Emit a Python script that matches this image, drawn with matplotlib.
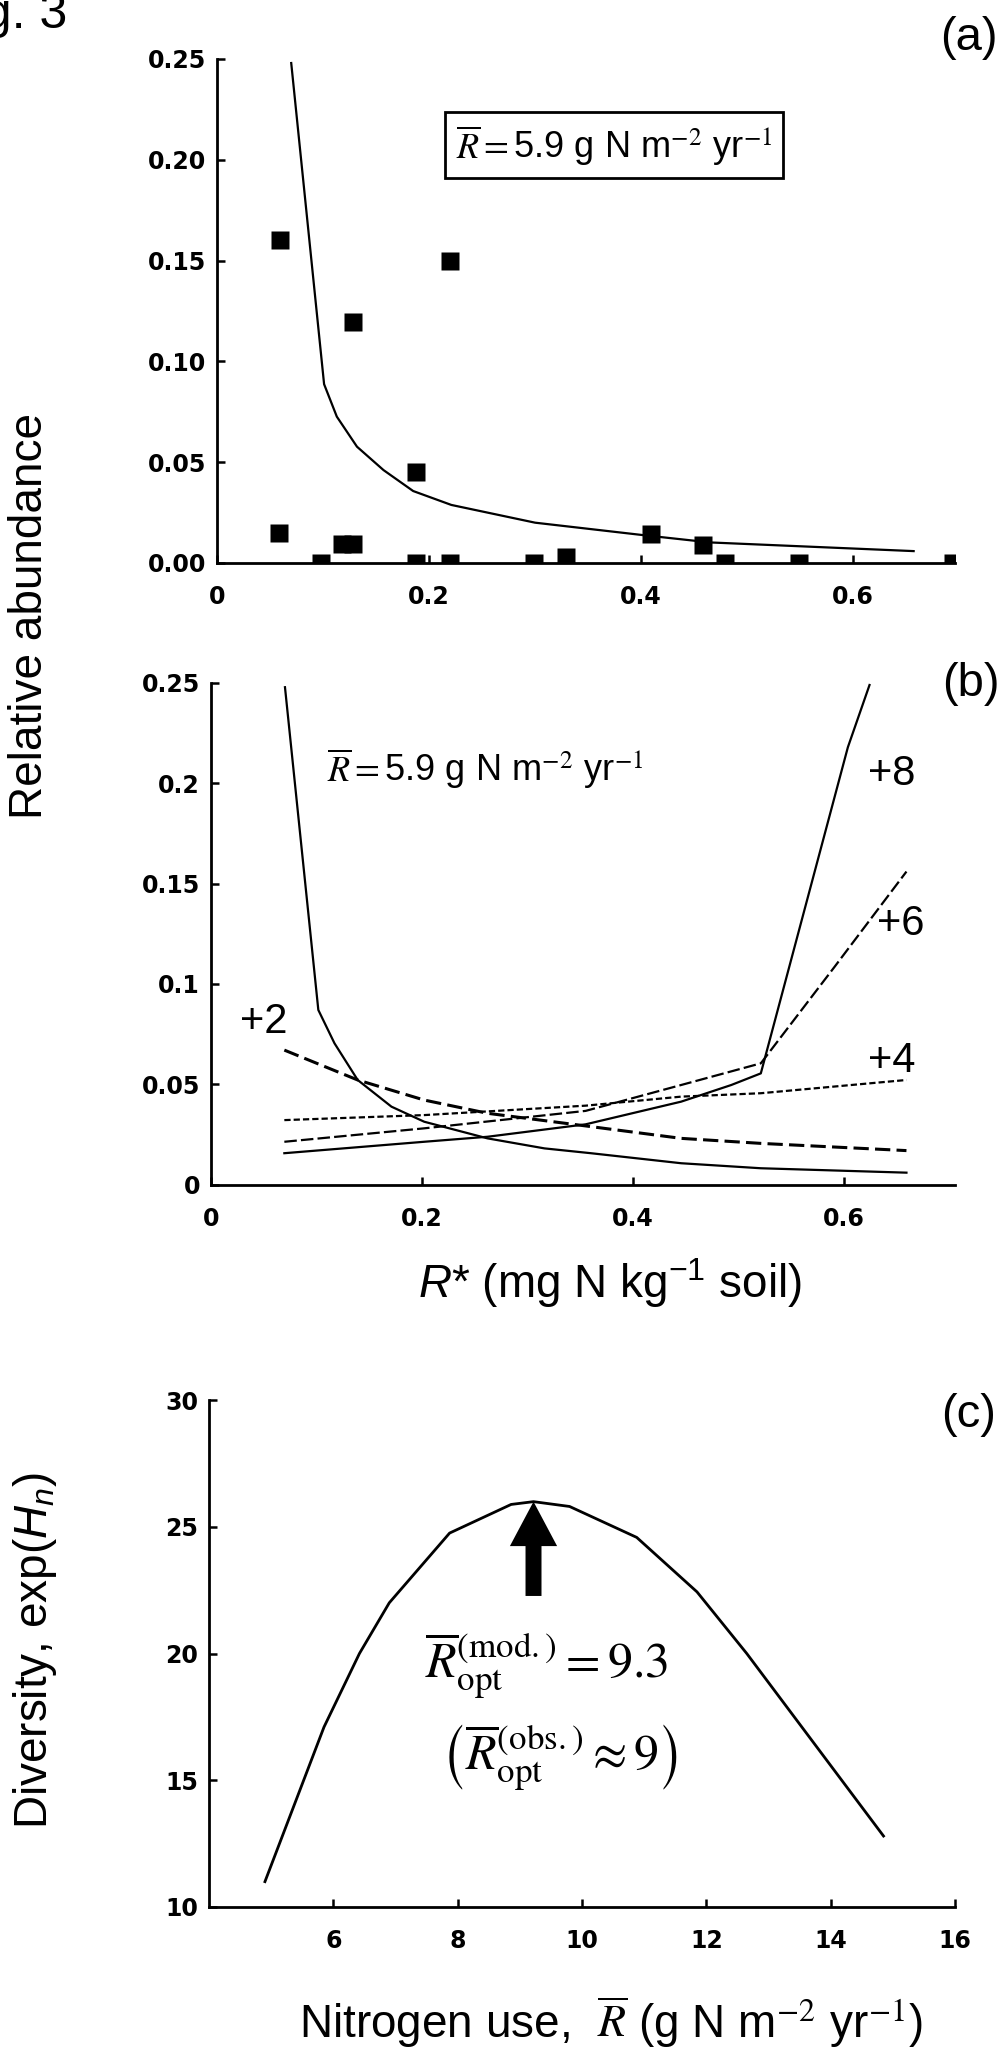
import matplotlib
matplotlib.use("Agg")
import matplotlib.pyplot as plt

# ---- data ----
# (a) observed relative abundance vs R*
obs_rstar = [0.059, 0.0585, 0.098, 0.118, 0.1285, 0.1286, 0.1874, 0.188, 0.2195,
             0.2195, 0.299, 0.329, 0.409, 0.4587, 0.479, 0.549, 0.694]
obs_abund = [0.160, 0.0147, 0.0, 0.0095, 0.0095, 0.1197, 0.0453, 0.0, 0.150,
             0.0, 0.0, 0.003, 0.0142, 0.0087, 0.0, 0.0, 0.0]

# (a) model curve, R-bar = 5.9
model_a_x = [0.070, 0.101, 0.113, 0.132, 0.157, 0.185, 0.221, 0.300, 0.404, 0.465, 0.657]
model_a_y = [0.248, 0.0887, 0.0726, 0.0577, 0.0461, 0.0357, 0.0288, 0.0200, 0.0137, 0.0102, 0.0059]

# (b) model curves for increasing N use
base_x = [0.0701, 0.1017, 0.117, 0.139, 0.171, 0.202, 0.262, 0.316, 0.360, 0.4455, 0.521, 0.659]
base_y = [0.2479, 0.087, 0.0704, 0.0521, 0.0388, 0.0313, 0.023, 0.018, 0.0156, 0.0106, 0.0081, 0.0059]
plus2_x = [0.0695, 0.139, 0.202, 0.262, 0.355, 0.4455, 0.521, 0.659]
plus2_y = [0.067, 0.0521, 0.0421, 0.0355, 0.0292, 0.023, 0.0205, 0.0169]
plus4_x = [0.0695, 0.202, 0.355, 0.4455, 0.521, 0.659]
plus4_y = [0.0321, 0.0346, 0.0393, 0.0438, 0.0455, 0.0521]
plus6_x = [0.0695, 0.202, 0.355, 0.4455, 0.521, 0.591, 0.659]
plus6_y = [0.0213, 0.028, 0.0367, 0.0496, 0.0604, 0.1086, 0.156]
plus8_x = [0.0695, 0.202, 0.262, 0.355, 0.4455, 0.493, 0.521, 0.6035, 0.624]
plus8_y = [0.0156, 0.0213, 0.0238, 0.030, 0.0413, 0.0496, 0.0554, 0.218, 0.249]

# (c) diversity vs nitrogen use
n_use = [4.9, 5.85, 6.42, 6.9, 7.87, 8.86, 9.22, 9.8, 10.88, 11.85, 12.65, 14.85]
diversity = [11.0, 17.1, 20.0, 22.0, 24.75, 25.88, 25.99, 25.8, 24.58, 22.43, 20.0, 12.8]
r_opt = 9.22

plt.rcParams['font.family'] = ['Liberation Sans', 'DejaVu Sans']
plt.rcParams['mathtext.fontset'] = 'custom'
plt.rcParams['mathtext.rm'] = 'Liberation Sans'
plt.rcParams['mathtext.it'] = 'Liberation Sans:italic'
plt.rcParams['mathtext.bf'] = 'Liberation Sans:bold'
plt.rcParams['lines.scale_dashes'] = False

W, H = 1006, 2051
fig = plt.figure(figsize=(W / 100, H / 100), dpi=100)
fig.patch.set_facecolor('white')


def px_axes(left, right, top, bottom):
    return fig.add_axes([left / W, 1 - bottom / H, (right - left) / W, (bottom - top) / H])


tick_font = dict(fontfamily='DejaVu Sans', fontweight='bold', fontsize=17)


def style(ax, xticks, xlabels, yticks, ylabels):
    for s in ['top', 'right']:
        ax.spines[s].set_visible(False)
    for s in ['left', 'bottom']:
        ax.spines[s].set_linewidth(2)
    ax.set_xticks(xticks, xlabels, **tick_font)
    ax.set_yticks(yticks, ylabels, **tick_font)
    ax.tick_params(direction='in', length=6, width=1.8)
    ax.tick_params(axis='y', pad=8)
    ax.tick_params(axis='x', pad=16)


# ---- (a) ----
ax1 = px_axes(217, 955, 59, 563)
ax1.plot(model_a_x, model_a_y, color='black', lw=1.6)
ax1.plot(obs_rstar, obs_abund, 's', color='black', ms=12.5, mec='none')
ax1.set_xlim(0, 0.696)
ax1.set_ylim(0, 0.25)
style(ax1, [0, 0.2, 0.4, 0.6], ['0', '0.2', '0.4', '0.6'],
      [0, 0.05, 0.10, 0.15, 0.20, 0.25], ['0.00', '0.05', '0.10', '0.15', '0.20', '0.25'])
ax1.text(0.3745, 0.2073, r'$\overline{R}=$5.9 g N m$^{-2}$ yr$^{-1}$', fontsize=26,
         ha='center', va='center', math_fontfamily='stix',
         bbox=dict(boxstyle='square,pad=0.3', fc='white', ec='black', lw=2))

# ---- (b) ----
ax2 = px_axes(211, 955, 683, 1184.5)
ax2.plot(base_x, base_y, color='black', lw=1.6)
ax2.plot(plus2_x, plus2_y, color='black', lw=2.2, dashes=(11, 4.5))
ax2.plot(plus4_x, plus4_y, color='black', lw=1.6, dashes=(4.5, 2.2))
ax2.plot(plus6_x, plus6_y, color='black', lw=1.6, dashes=(9, 3))
ax2.plot(plus8_x, plus8_y, color='black', lw=1.6)
ax2.set_xlim(0, 0.705)
ax2.set_ylim(0, 0.25)
style(ax2, [0, 0.2, 0.4, 0.6], ['0', '0.2', '0.4', '0.6'],
      [0, 0.05, 0.1, 0.15, 0.2, 0.25], ['0', '0.05', '0.1', '0.15', '0.2', '0.25'])
ax2.text(0.26, 0.2076, r'$\overline{R}=$5.9 g N m$^{-2}$ yr$^{-1}$', fontsize=26,
         ha='center', va='center', math_fontfamily='stix')
for lab, lx, ly in [('+2', 0.050, 0.081), ('+8', 0.645, 0.2046),
                    ('+6', 0.654, 0.130), ('+4', 0.645, 0.0617)]:
    ax2.text(lx, ly, lab, fontsize=30, ha='center', va='center')

# ---- (c) ----
ax3 = px_axes(209, 955, 1400, 1907)
ax3.plot(n_use, diversity, color='black', lw=2)
ax3.set_xlim(4, 16)
ax3.set_ylim(10, 30)
style(ax3, [6, 8, 10, 12, 14, 16], ['6', '8', '10', '12', '14', '16'],
      [10, 15, 20, 25, 30], ['10', '15', '20', '25', '30'])
ax3.annotate('', xy=(r_opt, 25.99), xytext=(r_opt, 22.27),
             arrowprops=dict(arrowstyle='simple,head_length=3.2,head_width=3.4,tail_width=1.15',
                             mutation_scale=10, fc='black', ec='none',
                             shrinkA=0, shrinkB=0))
ax3.text(9.43, 19.54, r'$\overline{R}_{\mathrm{opt}}^{(\mathrm{mod.})}=9.3$', fontsize=36,
         ha='center', va='center', math_fontfamily='stix')
ax3.text(9.64, 15.91, r'$\left(\overline{R}_{\mathrm{opt}}^{(\mathrm{obs.})}\approx 9\right)$',
         fontsize=36, ha='center', va='center', math_fontfamily='stix')

# ---- figure-level labels ----
fig.text(67 / W, 1 - 28 / H, 'Fig. 3', fontsize=36, ha='right', va='baseline')
for lab, px, py in [('(a)', 969, 38), ('(b)', 971, 684), ('(c)', 969, 1415)]:
    fig.text(px / W, 1 - py / H, lab, fontsize=34, ha='center', va='center')

fig.text(30 / W, 1 - 616 / H, 'Relative abundance', fontsize=33, rotation=90,
         ha='center', va='center')
fig.text(35 / W, 1 - 1650 / H, r'Diversity, exp($H_n$)', fontsize=33, rotation=90,
         ha='center', va='center')
fig.text(610 / W, 1 - 1298 / H, r'$R$* (mg N kg$^{-1}$ soil)', fontsize=33,
         ha='center', va='baseline')
fig.text(611 / W, 1 - 2038 / H, r'Nitrogen use,  $\overline{R}$ (g N m$^{-2}$ yr$^{-1}$)',
         fontsize=33, ha='center', va='baseline', math_fontfamily='stix')

fig.savefig('out.png', dpi=100)
